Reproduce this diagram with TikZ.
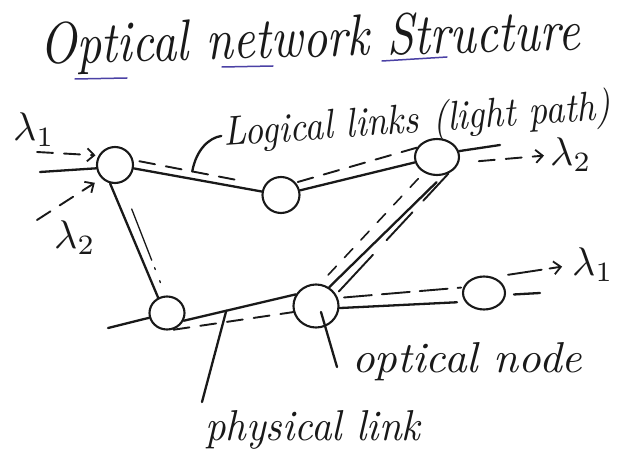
\documentclass[tikz,border=0pt]{standalone}
\usetikzlibrary{shapes.geometric,arrows.meta,calc}
\definecolor{pen}{RGB}{25,25,25}
\definecolor{penblue}{RGB}{75,65,165}
\begin{document}
\begin{tikzpicture}[x=1pt,y=-1pt,
  phys/.style={draw=pen,line width=2.3pt,line cap=round},
  logic/.style={draw=pen,line width=1.9pt,line cap=round,dash pattern=on 16pt off 11pt},
  faint/.style={draw=pen,line width=1.3pt,line cap=round},
  tip/.style={-{Straight Barb[length=7pt,width=13pt,line width=1.8pt]}},
  onode/.style={ellipse,draw=pen,line width=2.1pt,inner sep=0pt},
  lbl/.style={anchor=base west,inner sep=0pt,text=pen},
  uline/.style={penblue,line width=1.5pt,line cap=round}]
\useasboundingbox (0,0) rectangle (633,468);
\fill[white] (0,0) rectangle (633,468);

% title
\node[lbl,rotate=1.5] (title) at (40,64) {\resizebox{540pt}{41pt}{\itshape Optical network Structure}};
\draw[uline] (75,79) -- (127,78);
\draw[uline] (222,67) -- (273,66);
\draw[uline] (382,61) -- (447,57);

% optical nodes
\node[onode,minimum width=36pt,minimum height=36pt] (n1) at (115,165) {};
\node[onode,minimum width=37pt,minimum height=36pt] (n2) at (281,195) {};
\node[onode,minimum width=44pt,minimum height=36pt] (n3) at (437,157) {};
\node[onode,minimum width=35pt,minimum height=33pt] (n4) at (167,313) {};
\node[onode,minimum width=45pt,minimum height=43pt] (n5) at (316,306) {};
\node[onode,minimum width=42pt,minimum height=33pt] (n6) at (484,293) {};

% wavelength labels
\node[lbl] (l1l) at (13,141) {\scalebox{4}{$\lambda_1$}};
\node[lbl] (l2l) at (54,249) {\scalebox{4}{$\lambda_2$}};
\node[lbl] (l2r) at (550,166) {\scalebox{4}{$\lambda_2$}};
\node[lbl] (l1r) at (572,276) {\scalebox{4}{$\lambda_1$}};

% text labels
\node[lbl,rotate=4] (ll) at (224,146) {\resizebox{388pt}{31pt}{\itshape Logical links (light path)}};
\node[lbl] (onl) at (352,373) {\resizebox{230pt}{30pt}{\itshape optical node}};
\node[lbl] (pll) at (205,440) {\resizebox{215pt}{30pt}{\itshape physical link}};

% free ends
\coordinate (i1) at (40,172);
\coordinate (a1) at (37,152);
\coordinate (a2) at (37,220);
\coordinate (i4) at (108,328);
\coordinate (o3) at (500,145);
\coordinate (o6) at (540,293);
\coordinate (plk) at (202,402);
\coordinate (onk) at (337,367);

% physical links
\draw[phys] (i1) -- (n1.190);
\draw[phys] (n1) -- (n2);
\draw[phys] (n2) -- (n3);
\draw[phys] (n1.255) -- (n4.120);
\draw[phys] (i4) -- (n4.195);
\draw[phys] (n4.-25) -- (n5.150);
\draw[phys,shorten >=10pt] (n5.55) -- (n3.-70);
\draw[phys,shorten >=8pt] (n5.-5) -- (n6.205);
\draw[phys] (n3.15) -- (o3);
\draw[phys,shorten <=8pt] (n6.-5) -- (o6);

% logical links (light paths)
\draw[logic,tip,shorten >=3pt] (a1) -- (n1.150);
\draw[logic,tip,shorten >=8pt] (a2) -- (n1.225);
\draw[logic,shorten <=6pt,shorten >=25pt] (n1.15) -- (n2.150);
\draw[logic,shorten <=2pt] (n2.40) -- (n3.155);
\draw[logic,tip,shorten <=20pt,shorten >=6pt] (n3.-15) -- (l2r.west);
\draw[faint,dash pattern=on 55pt off 8pt on 2pt off 12pt on 2pt off 30pt,shorten <=28pt] (n1.290) -- (n4.95);
\draw[logic,shorten <=2pt] (n4.-75) -- (n5.195);
\draw[faint,line width=1.6pt,dash pattern=on 12pt off 12pt,shorten <=12pt,shorten >=6pt] (n5.80) -- (n3.230);
\draw[logic,dash pattern=on 50pt off 20pt on 38pt off 16pt,shorten <=4pt] (n5.30) -- (n3.-55);
\draw[logic,dash pattern=on 28pt off 10pt,shorten <=6pt,shorten >=2pt] (n5.20) -- (n6.165);
\draw[logic,tip,dash pattern=on 34pt off 8pt,shorten <=15pt,shorten >=10pt] (n6.60) -- (l1r.west);

% leaders
\draw[phys,shorten >=2pt] ($(n1.15)!0.45!(n2.150)$) .. controls +(4,-22) and +(-14,2) .. (ll.west);
\draw[phys] ($(n4.-25)!0.38!(n5.150)$) -- (plk);
\draw[phys] ($(n5.center)+(5,6)$) -- (onk);
\end{tikzpicture}
\end{document}
